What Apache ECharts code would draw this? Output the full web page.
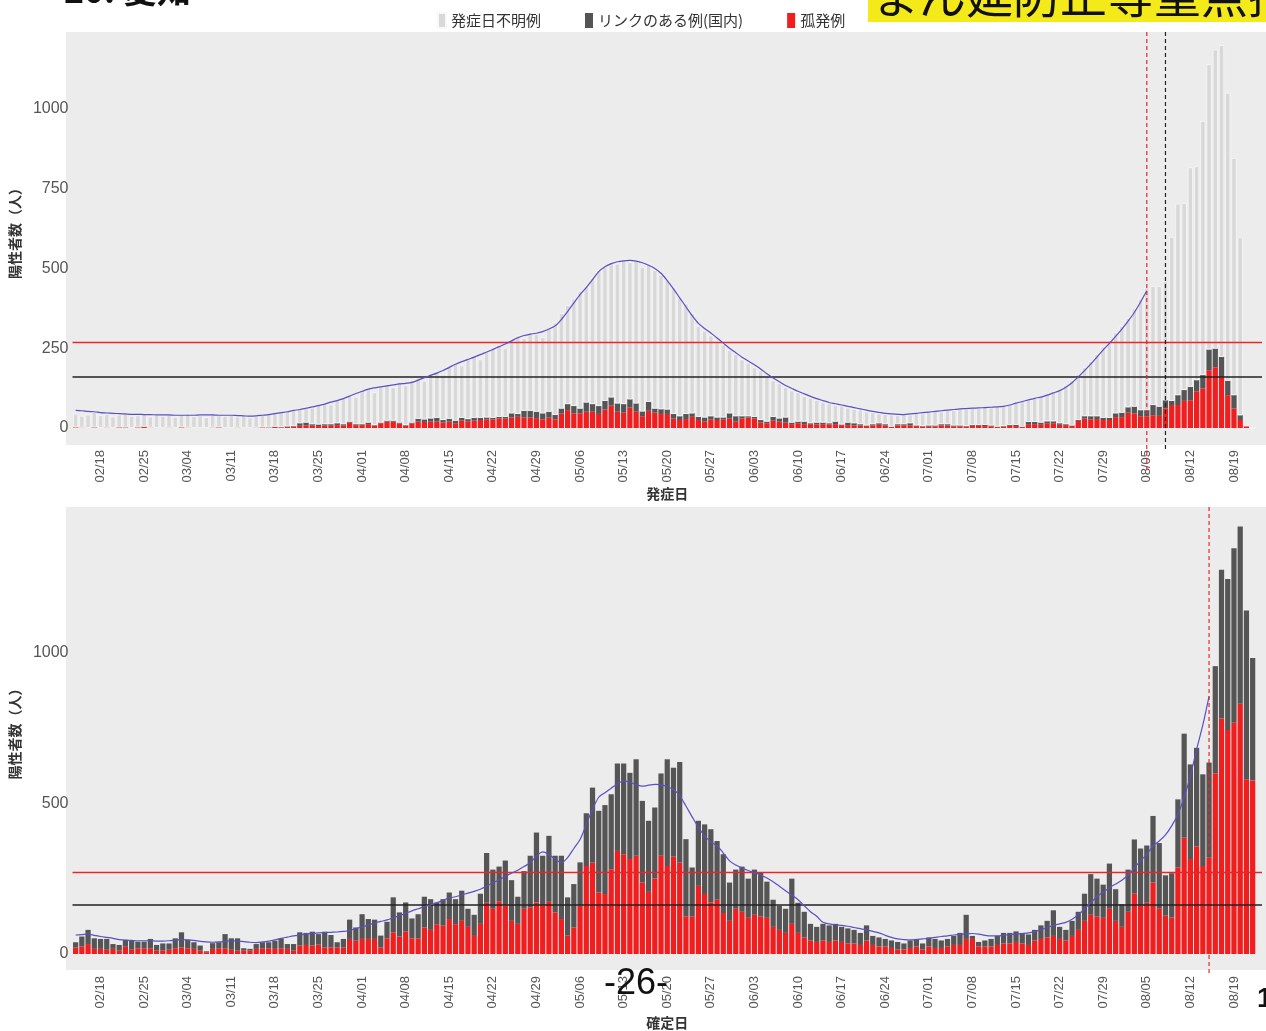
<!DOCTYPE html>
<html>
<head>
<meta charset="utf-8">
<script src="https://cdn.jsdelivr.net/npm/echarts@6/dist/echarts.min.js"></script>
<style>
html,body{margin:0;padding:0;background:#fff}
#chart{width:1266px;height:1031px}
</style>
</head>
<body>
<div id="chart"></div>
<script>
// 日付 2021/02/14 〜 08/23
var dates = [];
for (var i = 0; i < 191; i++) {
  var d = new Date(2021, 1, 14 + i);
  dates.push(('0' + (d.getMonth() + 1)).slice(-2) + '/' + ('0' + d.getDate()).slice(-2));
}

// 上段（発症日）
var topRed = [2,1,0,1,0,1,0,2,1,0, 2,3,1,0,0,1,0,2,1,0, 0,0,1,2,0,0,1,0,0,1, 2,1,3,2,3,4,
  7,8,7,6,8,7,9,8,
  17,9,9,12,7,15,20,20,14,7, 14,20,19,20,20,17,20,15,23,21, 23,25,27,27,30,30,33,35,33,
  33,31,27,33,27,45,56,46,46,51, 51,44,58,70,51,48,64,51,37,54, 48,44,44,30,25,28,35,25,20, 27,25,
  27,30,20,30,33,30,17,15,23,20, 17,12,15,12,12,11,12,11,12,9, 9,8,8,6,8,10,8,3,8,8, 8,6,4,4,5,8,8,5,5,4, 7,7,6,5,3,4,7,6,3,12, 12,10,15,15,10,9,6,
  22,30,27,28,25,25,34,34,48,46, 37,37,40,38,61,72,72,85,87,115, 124,181,190,160,103,61,25,6,0];
// 孤発例＋リンクのある例（濃い棒の上端）
var topKnown = [2,1,0,2,0,1,0,2,2,0, 2,4,1,0,0,1,0,2,1,0, 0,0,1,2,0,0,1,0,0,1, 2,2,4,3,5,6,
  15,17,12,11,12,12,15,12,
  20,12,12,17,9,17,23,23,17,9, 17,29,27,30,32,25,29,23,32,28, 32,32,33,32,35,35,46,44,54,
  54,51,46,51,41,61,75,69,61,80, 75,69,85,96,77,75,90,77,52,82, 61,59,58,44,37,44,46,35,33, 37,33,
  33,46,37,37,37,35,25,20,35,30, 33,17,20,20,15,17,17,15,20,11, 17,15,12,8,12,15,12,4,12,12, 15,8,6,8,8,12,12,8,8,6, 10,10,10,8,4,6,10,10,4,19, 19,17,21,21,15,12,8,
  25,37,37,37,32,32,46,48,65,67, 56,56,72,67,87,85,103,119,129,150, 166,246,249,223,148,103,40,7,0];
// 発症日不明例を含む棒の上端
var topTotal = [45,38,42,50,40,44,36,42,47,38, 40,45,36,41,38,44,35,43,46,37, 40,34,44,40,38,42,36,40,33,38, 41,44,46,50,54,60,62,68,64,72, 78,74,88,95,
  102,98,118,125,112,130,138,128,146,134, 150,158,148,172,178,168,195,205,196,218, 226,215,240,252,260,250,278,290,282,300, 295,285,312,330,360,385,405,
  430,445,470,495,505,520,515,530,520,525, 505,515,495,480,465,440,410,390,360, 320,305,290,272,262,245,232,215,205,190,
  180,162,150,140,128,118,112,100,95,88, 82,78,72,70,64,60,58,52,50,46, 44,42,40,44,42,48,46,50,54,52,
  58,56,62,60,64,62,66,64,68,70, 74,80,86,90,96,100,108,114,122,135, 150,170,190,210,232,255,275,300,320,345, 375,405,440,
  445,445,460,598,703,705,817,820,962,1140,1186,1200,1050,846,598,7,0];
var topAvg = [55,54,52,51,48,47,46,45,44,43,43,
  42,42,41,41,41,40,40,40,40,41, 41,41,40,40,40,39,38,37,38,40,
  42,45,48,51,55,58,62,66,70,75, 81,86,92,100,108,115,122,126,129,132,
  135,138,140,143,150,158,165,172,180,190, 200,208,215,222,230,238,246,255,263,273,
  283,290,294,297,302,310,320,340,365,392, 418,440,465,490,505,515,521,524,525,523,
  518,510,500,485,462,436,408,380,352, 328,312,298,282,266,250,236,222,210,198,
  185,170,157,145,133,124,115,107,99,92, 86,80,76,72,68,64,60,56,52,49,
  46,44,43,42,44,46,48,50,52,54, 56,58,60,61,62,63,64,65,66,68,
  72,78,83,88,93,97,103,110,117,128, 142,160,180,200,222,245,265,287,310,335,
  362,395,430];

// 下段（確定日）
var botRed = [22,25,33,17,17,14,17,11,24,14, 19,19,19,11,11,14,19,22,19,17, 11,6,17,19,19,14,11,11,11,17, 19,19,17,19,17,11,28,30,28,31, 22,22,22,22,50,44,50,50,50,22, 52,72,58,75,52,52,88,80,99,94, 116,99,
  110,90,60,100,170,150,175,160,110,100,150,
  155,171,160,173,138,116,61,88,160,292, 303,204,199,281,342,331,315,326,237,206, 251,326,292,323,303,125,125,226,199,171, 180,136,110,
  150,140,120,130,125,120,90,80,70,100, 70,55,45,40,45,40,45,40,35, 35,30,45,30,25,25,20,15,15,20, 25,15,25,20,20,25,30,30,50,50, 25,25,25,30,35,35,40,35,30,45, 50,55,60,50,45,60,80,110,130,125, 120,150,110,90,140,200,160,170,
  237,150,127,121,287,386,315,357,292,320,600,781,743,767,830,580,576];
var botTotal = [39,58,80,52,50,50,33,30,47,44, 41,41,50,30,35,35,52,72,47,39, 28,9,36,39,66,52,52,19,17,33, 39,39,44,52,33,33,72,70,74,66, 74,63,39,50,114,88,132,116,114,61, 107,188,138,171,118,132,190,182,171,182, 204,182,
  210,150,130,200,335,280,290,310,245,190,275,
  326,403,326,392,326,326,188,232,304,467, 552,475,494,530,632,632,601,646,508,442, 486,599,646,618,637,381,287,442,430,414, 375,331,237,
  280,290,250,280,270,240,180,160,150,250, 170,140,100,90,100,95,100,90,85, 80,70,95,60,55,50,45,40,35,45, 50,35,55,50,45,50,60,70,130,60, 40,45,50,60,70,70,75,70,65,80, 95,110,145,90,80,110,140,200,265,250, 230,300,215,165,280,380,350,360,
  458,368,261,268,513,731,629,684,596,635,955,1275,1244,1346,1418,1140,982];
var botAvg = [63,64,66,62,58,55,52,48,46,45, 44,44,44,43,43,44,46,48,47,45, 42,40,39,40,42,44,43,41,39,38, 40,43,47,52,56,60,63,66,68,70, 71,72,73,75,78,84,90,96,103,108, 113,120,127,135,143,150,157,163,170,178, 186,190,
  196,202,208,215,225,236,246,258,268,278, 290,303,325,339,330,315,303,320,350,380, 430,480,520,535,550,565,574,570,562,557, 560,563,562,555,546,525,491,455,420,392, 372,359,335,309,
  295,285,277,270,262,252,240,225,210,195, 180,160,140,125,105,100,97,95,92, 88,84,80,75,70,62,55,50,48,47, 48,50,52,55,58,60,63,65,67,68, 66,62,60,60,62,64,66,68,70,74, 80,87,95,100,105,115,130,150,170,190, 205,220,232,245,262,285,310,330,359,375, 395,425,464,520,590,679,760,855];

var stage4 = 270, stage3 = 162;
var lineTop = ['08/05', '08/08'];
var lineBot = '08/15';

function diff(a, b) {
  return a.map(function (v, i) { return Math.max(0, v - (b[i] || 0)); });
}
var topLinked = diff(topKnown, topRed);
var topUnknown = diff(topTotal, topKnown);
var botLinked = diff(botTotal, botRed);

var RED = '#f01e1e', DARK = '#555555', LIGHT = '#d8d8d8', BLUE = '#5a4fc4';
var FONT = "'Liberation Sans', 'Noto Sans CJK JP', sans-serif";
var JP = "'Noto Sans CJK JP', sans-serif";

var chart = echarts.init(document.getElementById('chart'));

function xAxisOf(idx, name, gap) {
  return {
    type: 'category', gridIndex: idx, data: dates,
    axisLine: {show: false}, axisTick: {show: false},
    axisLabel: {
      rotate: 90, margin: 22, fontSize: 13, color: '#555', fontFamily: FONT,
      interval: function (i) { return (i - 4) % 7 === 0; }
    },
    name: name, nameLocation: 'middle', nameGap: gap,
    nameTextStyle: {fontSize: 14, fontWeight: 'bold', color: '#333', fontFamily: JP}
  };
}
function yAxisOf(idx, max, step) {
  return {
    type: 'value', gridIndex: idx, min: 0, max: max, interval: step,
    splitLine: {show: false}, axisLine: {show: false}, axisTick: {show: false},
    axisLabel: {
      fontSize: 16, color: '#555', margin: 4, fontFamily: FONT,
      formatter: function (v) { return v % step === 0 ? v : ''; }
    },
    name: '陽性者数（人）', nameLocation: 'middle', nameRotate: 90, nameGap: 44,
    nameTextStyle: {fontSize: 14, fontWeight: 'bold', color: '#333', fontFamily: JP}
  };
}
function hLines() {
  return {
    symbol: 'none', silent: true, label: {show: false},
    data: [
      {yAxis: stage4, lineStyle: {color: '#e8262a', width: 1.3, type: 'solid'}},
      {yAxis: stage3, lineStyle: {color: '#222', width: 1.6, type: 'solid'}}
    ]
  };
}

var option = {
  animation: false,
  textStyle: {fontFamily: FONT},
  legend: {
    top: 7, left: 432, itemWidth: 8, itemHeight: 15, itemGap: 44,
    icon: 'rect',
    data: ['発症日不明例', 'リンクのある例(国内)', '孤発例'],
    textStyle: {fontSize: 15, color: '#333', fontFamily: JP}
  },
  grid: [
    {left: 66, right: 4, top: 32, height: 396},
    {left: 66, right: 4, top: 507, height: 448}
  ],
  xAxis: [xAxisOf(0, '発症日', 58), xAxisOf(1, '確定日', 62)],
  yAxis: [yAxisOf(0, 1241, 250), yAxisOf(1, 1483, 500)],
  series: [
    {name: '孤発例', type: 'bar', stack: 'top', xAxisIndex: 0, yAxisIndex: 0, data: topRed,
      barCategoryGap: '16%', itemStyle: {color: RED}, markLine: hLines()},
    {name: 'リンクのある例(国内)', type: 'bar', stack: 'top', xAxisIndex: 0, yAxisIndex: 0,
      data: topLinked, itemStyle: {color: DARK}},
    {name: '発症日不明例', type: 'bar', stack: 'top', xAxisIndex: 0, yAxisIndex: 0,
      data: topUnknown, itemStyle: {color: LIGHT, borderColor: '#f8f8f8', borderWidth: 0.8}},
    {name: 'avgTop', type: 'line', xAxisIndex: 0, yAxisIndex: 0, data: topAvg,
      symbol: 'none', smooth: 0.3, lineStyle: {color: BLUE, width: 1.2}, z: 5},
    {name: '孤発例', type: 'bar', stack: 'bot', xAxisIndex: 1, yAxisIndex: 1, data: botRed,
      barCategoryGap: '16%', itemStyle: {color: RED}, markLine: hLines()},
    {name: 'リンクのある例(国内)', type: 'bar', stack: 'bot', xAxisIndex: 1, yAxisIndex: 1,
      data: botLinked, itemStyle: {color: DARK}},
    {name: 'avgBot', type: 'line', xAxisIndex: 1, yAxisIndex: 1, data: botAvg,
      symbol: 'none', smooth: 0.3, lineStyle: {color: BLUE, width: 1.2}, z: 5}
  ]
};
chart.setOption(option);

var xr = chart.convertToPixel({xAxisIndex: 0}, lineTop[0]);
var xk = chart.convertToPixel({xAxisIndex: 0}, lineTop[1]);
var xb = chart.convertToPixel({xAxisIndex: 1}, lineBot);

function vline(x, y1, y2, color) {
  return {type: 'line', z: 100, silent: true,
    shape: {x1: x, y1: y1, x2: x, y2: y2},
    style: {stroke: color, lineWidth: 1.2, lineDash: [4, 3]}};
}

chart.setOption({
  graphic: [
    {type: 'rect', z: -10, silent: true, shape: {x: 66, y: 32, width: 1200, height: 413}, style: {fill: '#ececec'}},
    {type: 'rect', z: -10, silent: true, shape: {x: 66, y: 507, width: 1200, height: 463}, style: {fill: '#ececec'}},
    vline(xr, 32, 472, '#e8262a'),
    vline(xk, 32, 452, '#222'),
    vline(xb, 507, 975, '#e8262a'),
    {type: 'text', z: 100, left: 64, top: -27, style: {text: '20. 愛知', fontSize: 34, fontWeight: 'bold', fill: '#111', fontFamily: JP}},
    {type: 'rect', z: 100, shape: {x: 868, y: 0, width: 398, height: 22}, style: {fill: '#f4ea1a'}},
    {type: 'text', z: 101, left: 872, top: -28, style: {text: 'まん延防止等重点措置', fontSize: 47, fill: '#111', fontFamily: JP}},
    {type: 'text', z: 100, left: 604, top: 966, style: {text: '-26-', fontSize: 36, fill: '#111', fontFamily: FONT}},
    {type: 'text', z: 100, left: 1257, top: 985, style: {text: '1', fontSize: 28, fontWeight: 'bold', fill: '#111', fontFamily: FONT}}
  ]
});
</script>
</body>
</html>
